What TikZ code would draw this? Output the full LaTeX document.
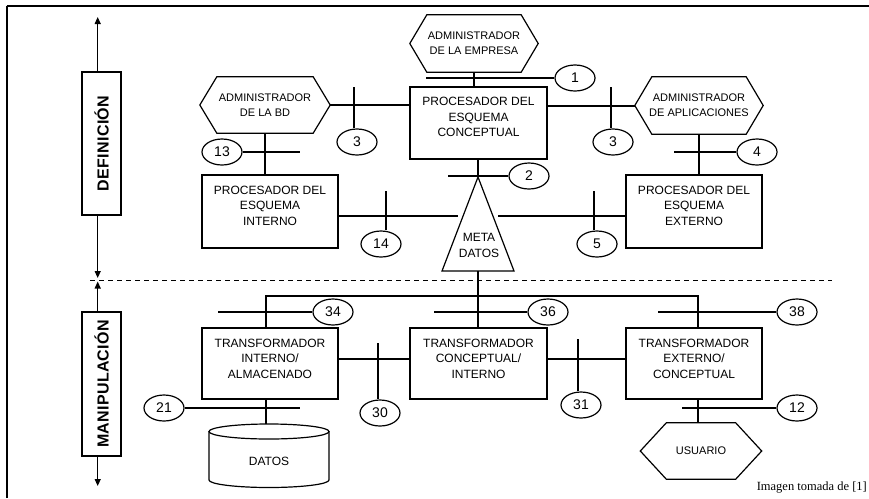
\documentclass[tikz,border=0pt]{standalone}
\usepackage{fontspec}
\setmainfont{Liberation Sans}
\newfontfamily\notefont{Liberation Serif}
\usetikzlibrary{arrows.meta,shapes.geometric}

% hexagonal actor box: name, x, y, width, height, corner inset, text
\newcommand\hexagonbox[7]{%
  \node[hexlabel, minimum width=#4pt, minimum height=#5pt] (#1) at (#2,#3) {#7};
  \draw[shapeline] ([xshift=#6pt]#1.north west) -- ([xshift=-#6pt]#1.north east)
    -- (#1.east) -- ([xshift=-#6pt]#1.south east) -- ([xshift=#6pt]#1.south west)
    -- (#1.west) -- cycle;}

\begin{document}
\begin{tikzpicture}[x=1pt,y=-1pt,
  shapeline/.style={line width=1.2pt},
  link/.style={line width=2pt},
  procbox/.style={draw, shapeline, minimum width=136pt, minimum height=72pt, inner sep=0pt},
  boxtext/.style={align=center, inner sep=0pt, font=\fontsize{12}{15.5}\selectfont},
  hexlabel/.style={align=center, inner sep=0pt, font=\fontsize{11}{15}\selectfont},
  numtag/.style={draw, shapeline, ellipse, minimum width=40pt, minimum height=26pt, inner sep=0pt, font=\fontsize{14}{14}\selectfont},
  phasebox/.style={draw, shapeline, minimum width=39pt, minimum height=143pt, inner sep=0pt},
  phasetext/.style={rotate=90, inner sep=0pt, font=\fontsize{16}{16}\selectfont\bfseries\addfontfeature{LetterSpace=2}},
  axisline/.style={line width=1.2pt, -{Triangle[length=7pt,width=6pt]}},
]
\useasboundingbox (0,0) rectangle (869,498);

% frame
\draw[line width=1.5pt] (7,498) -- (7,5.5);
\draw[line width=2pt] (6.5,5.5) -- (869,5.5);

% phase labels with their axis
\node[phasebox] (def) at (101.5,143.5) {};
\node[phasetext] (deftext) at (def.center) {DEFINICIÓN};
\node[phasebox, minimum height=144pt] (man) at (101.5,384) {};
\node[phasetext] (mantext) at (man.center) {MANIPULACIÓN};
\coordinate (tipTop) at (97.7,17);
\coordinate (tipMidA) at (97.7,278);
\coordinate (tipMidB) at (97.7,281.5);
\coordinate (tipBot) at (97.7,486);
\draw[axisline] (def.north -| tipTop) -- (tipTop);
\draw[axisline] (def.south -| tipTop) -- (tipMidA);
\draw[axisline] (man.north -| tipTop) -- (tipMidB);
\draw[axisline] (man.south -| tipTop) -- (tipBot);

% phase separator
\coordinate (dashL) at (90,280);
\coordinate (dashR) at (832,280);
\draw[line width=0.9pt, dash pattern=on 5pt off 4pt] (dashL) -- (dashR);

% actors
\hexagonbox{emp}{474}{43.5}{128}{57}{17}{ADMINISTRADOR\\DE LA EMPRESA}
\hexagonbox{bd}{265}{105}{130}{56}{17}{ADMINISTRADOR\\DE LA BD}
\hexagonbox{apl}{699}{105.5}{128}{57}{17}{ADMINISTRADOR\\DE APLICACIONES}
\hexagonbox{usu}{701}{451}{121}{56}{26}{USUARIO}

% processors
\node[procbox, minimum width=137pt] (conc) at (478.5,123) {};
\node[boxtext] at ([yshift=6pt]conc.center) {PROCESADOR DEL\\ESQUEMA\\CONCEPTUAL};
\node[procbox, minimum height=73pt] (int) at (270,211.5) {};
\node[boxtext] at ([yshift=6pt]int.center) {PROCESADOR DEL\\ESQUEMA\\INTERNO};
\node[procbox, minimum height=73pt] (ext) at (694,211.5) {};
\node[boxtext] at ([yshift=6pt]ext.center) {PROCESADOR DEL\\ESQUEMA\\EXTERNO};

% transformers
\node[procbox, minimum height=71pt] (tr1) at (270,363.5) {};
\node[boxtext] at ([yshift=5pt]tr1.center) {TRANSFORMADOR\\INTERNO/\\ALMACENADO};
\node[procbox, minimum width=137pt, minimum height=71pt] (tr2) at (478.5,363.5) {};
\node[boxtext] at ([yshift=5pt]tr2.center) {TRANSFORMADOR\\CONCEPTUAL/\\INTERNO};
\node[procbox, minimum height=71pt] (tr3) at (694,363.5) {};
\node[boxtext] at ([yshift=5pt]tr3.center) {TRANSFORMADOR\\EXTERNO/\\CONCEPTUAL};

% metadata triangle
\coordinate (metaApex) at (478,177);
\coordinate (metaL) at (442,271);
\coordinate (metaR) at (514,271);
\coordinate (metaB) at (478,271);
\coordinate (metaW) at (458,216);
\coordinate (metaE) at (498,216);
\draw[shapeline, line join=miter] (metaApex) -- (metaL) -- (metaR) -- cycle;
\node[boxtext] (meta) at (479,245.5) {META\\DATOS};

% data store
\draw[shapeline] (209,431.5) -- (209,480)
  arc[start angle=180, end angle=360, x radius=60pt, y radius=7.5pt] -- (329,431.5);
\draw[shapeline] (269,431.5) ellipse [x radius=60pt, y radius=7.5pt];
\node[boxtext] (datos) at (269,461) {DATOS};
\coordinate (datosTop) at (266,424);

% interface numbers
\node[numtag] (n1) at (575,78) {1};
\node[numtag] (n3a) at (357,142) {3};
\node[numtag] (n3b) at (613,142) {3};
\node[numtag] (n13) at (222,152) {13};
\node[numtag] (n4) at (757,152) {4};
\node[numtag] (n2) at (529,176) {2};
\node[numtag] (n14) at (381,244) {14};
\node[numtag] (n5) at (597,244) {5};
\node[numtag] (n34) at (333,312) {34};
\node[numtag] (n36) at (548,312) {36};
\node[numtag] (n38) at (797,312) {38};
\node[numtag] (n30) at (380,413) {30};
\node[numtag] (n31) at (581,405) {31};
\node[numtag] (n21) at (164,408) {21};
\node[numtag] (n12) at (797,408) {12};

% free ends of the interface bars
\coordinate (f1) at (426,78);
\coordinate (f3a) at (354,87);
\coordinate (f3b) at (611,87);
\coordinate (f13) at (300,152);
\coordinate (f4) at (674,152);
\coordinate (f2) at (448,176);
\coordinate (f14) at (386,191);
\coordinate (f5) at (594,191);
\coordinate (f34) at (218,312);
\coordinate (f36) at (434,312);
\coordinate (f38) at (658,312);
\coordinate (f30) at (378,343);
\coordinate (f31) at (578,339);
\coordinate (f21) at (300,408);
\coordinate (f12) at (682,408);

% bus of the manipulation phase
\coordinate (busW) at (266,296);
\coordinate (busE) at (698,296);

% connectors, definition phase
\draw[link] (emp.south) -- (emp.south |- conc.north);
\draw[link] (bd.east) -- (bd.east -| conc.west);
\draw[link] (conc.east |- apl.west) -- (apl.west);
\draw[link] (bd.south) -- (bd.south |- int.north);
\draw[link] (apl.south) -- (apl.south |- ext.north);
\draw[link] (conc.south -| metaApex) -- (metaApex);
\draw[link] (metaW -| int.east) -- (metaW);
\draw[link] (metaE) -- (metaE -| ext.west);

% connectors, manipulation phase
\draw[link] (metaB) -- (metaB |- tr2.north);
\draw[link] (busW |- tr1.north) -- (busW) -- (busE) -- (busE |- tr3.north);
\draw[link] ([yshift=4.5pt]tr1.east) -- ([yshift=4.5pt]tr2.west);
\draw[link] ([yshift=4.5pt]tr2.east) -- ([yshift=4.5pt]tr3.west);
\draw[link] (tr1.south -| datosTop) -- (datosTop);
\draw[link] (tr3.south -| busE) -- (usu.north -| busE);

% interface bars
\draw[link] (f1) -- (n1.west);
\draw[link] (f3a) -- (f3a |- n3a.north);
\draw[link] (f3b) -- (f3b |- n3b.north);
\draw[link] (n13.east) -- (f13);
\draw[link] (f4) -- (n4.west);
\draw[link] (f2) -- (n2.west);
\draw[link] (f14) -- (f14 |- n14.north);
\draw[link] (f5) -- (f5 |- n5.north);
\draw[link] (f34) -- (n34.west);
\draw[link] (f36) -- (n36.west);
\draw[link] (f38) -- (n38.west);
\draw[link] (f30) -- (f30 |- n30.north);
\draw[link] (f31) -- (f31 |- n31.north);
\draw[link] (n21.east) -- (f21);
\draw[link] (f12) -- (n12.west);

% source note
\node[anchor=base east, inner sep=0pt, font=\notefont\fontsize{12.5}{14}\selectfont] (note) at (867,490) {Imagen tomada de [1]};
\end{tikzpicture}
\end{document}
